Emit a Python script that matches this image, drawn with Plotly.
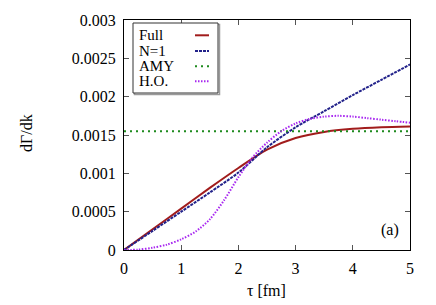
import plotly.graph_objects as go

tau = [0, 0.5, 1.0, 1.5, 2.0, 2.5, 3.0, 3.5, 4.0, 4.5, 5.0]
full = [0, 0.00027, 0.00054, 0.00081, 0.00107, 0.00131, 0.00146, 0.00154, 0.00158, 0.00160, 0.00161]
n1 = [0, 0.00025, 0.00050, 0.00075, 0.00101, 0.00134, 0.00160, 0.00181, 0.00202, 0.00222, 0.00242]
amy_tau = [0, 5]
amy = [0.00155, 0.00155]
ho_tau = [0, 0.25, 0.5, 0.75, 1.0, 1.25, 1.5, 1.75, 2.0, 2.25, 2.5, 2.75, 3.0, 3.25, 3.5, 3.75, 4.0, 4.25, 4.5, 4.75, 5.0]
ho = [0, 0.000005, 0.00003, 0.00007, 0.00014, 0.00024, 0.00040, 0.00065, 0.00095, 0.00121, 0.00140,
      0.00155, 0.00165, 0.00171, 0.00174, 0.00175, 0.00174, 0.00172, 0.00170, 0.00168, 0.00166]

xticks = [0, 1, 2, 3, 4, 5]
yticks = [0, 0.0005, 0.001, 0.0015, 0.002, 0.0025, 0.003]
ytick_labels = ["0", "0.0005", "0.001", "0.0015", "0.002", "0.0025", "0.003"]

names = ["Full", "N=1", "AMY", "H.O."]
colors = ["#a11c1c", "#22228a", "#1e8a1e", "#a828f0"]
dashes = ["solid", "3px,1px", "2px,4px", "1.5px,1.5px"]

fig = go.Figure()
fig.add_trace(go.Scatter(x=tau, y=full, mode="lines", line=dict(color=colors[0], width=2, dash=dashes[0], shape="spline", smoothing=0.8), showlegend=False))
fig.add_trace(go.Scatter(x=tau, y=n1, mode="lines", line=dict(color=colors[1], width=2, dash=dashes[1], shape="spline", smoothing=0.8), showlegend=False))
fig.add_trace(go.Scatter(x=amy_tau, y=amy, mode="lines", line=dict(color=colors[2], width=2, dash=dashes[2]), showlegend=False))
fig.add_trace(go.Scatter(x=ho_tau, y=ho, mode="lines", line=dict(color=colors[3], width=2, dash=dashes[3], shape="spline", smoothing=0.8), showlegend=False))

font = "Liberation Serif"

L, R, T, B = 124, 26, 20, 55
W, H = 436, 305
pw, ph = W - L - R, H - T - B
def px(x):
    return (x - L) / pw
def py(y):
    return 1 - (y - T) / ph

shapes = []
annotations = []
shapes.append(dict(type="rect", xref="paper", yref="paper", x0=px(134.5), x1=px(219.5), y0=py(94.5), y1=py(24.5),
                   line=dict(color="#9a9a9a", width=1.5), fillcolor="rgba(0,0,0,0)", layer="above"))
shapes.append(dict(type="rect", xref="paper", yref="paper", x0=px(133), x1=px(218), y0=py(93), y1=py(23),
                   line=dict(color="#333333", width=1), fillcolor="white", layer="above"))
rows = [35.3, 51, 66.3, 81.3]
for i, name in enumerate(names):
    annotations.append(dict(xref="paper", yref="paper", x=px(137), y=py(rows[i]), text=name, showarrow=False,
                            xanchor="left", yanchor="middle", font=dict(family=font, size=15, color="black")))
    shapes.append(dict(type="line", xref="paper", yref="paper", x0=px(195), x1=px(209), y0=py(rows[i]), y1=py(rows[i]),
                       line=dict(color=colors[i], width=2, dash=dashes[i]), layer="above"))

annotations.append(dict(xref="paper", yref="paper", x=px(390), y=py(230), text="(a)", showarrow=False,
                        xanchor="center", yanchor="middle", font=dict(family=font, size=16, color="black")))
annotations.append(dict(xref="paper", yref="paper", x=px(266), y=py(290), text="τ [fm]", showarrow=False,
                        xanchor="center", yanchor="middle", font=dict(family=font, size=16, color="black")))
annotations.append(dict(xref="paper", yref="paper", x=px(26), y=py(133), text="dΓ/dk", showarrow=False, textangle=-90,
                        xanchor="center", yanchor="middle", font=dict(family=font, size=16, color="black")))

axis_common = dict(showgrid=False, zeroline=False, showline=True, linecolor="black", linewidth=1,
                   mirror="ticks", ticks="inside", ticklen=5, tickcolor="#555555", automargin=False,
                   tickfont=dict(family=font, size=16, color="black"))

fig.update_layout(
    width=W, height=H,
    margin=dict(l=L, r=R, t=T, b=B),
    font=dict(family=font, size=16, color="black"),
    paper_bgcolor="white", plot_bgcolor="white",
    xaxis=dict(range=[0, 5], tickvals=xticks, ticktext=[str(v) for v in xticks], ticklabelstandoff=4, **axis_common),
    yaxis=dict(range=[0, 0.003], tickvals=yticks, ticktext=ytick_labels, ticklabelstandoff=4, **axis_common),
    shapes=shapes, annotations=annotations,
)

fig.write_html("out.html", config={"displayModeBar": False},
               post_script="document.body.style.margin='0';document.body.style.padding='0';")
